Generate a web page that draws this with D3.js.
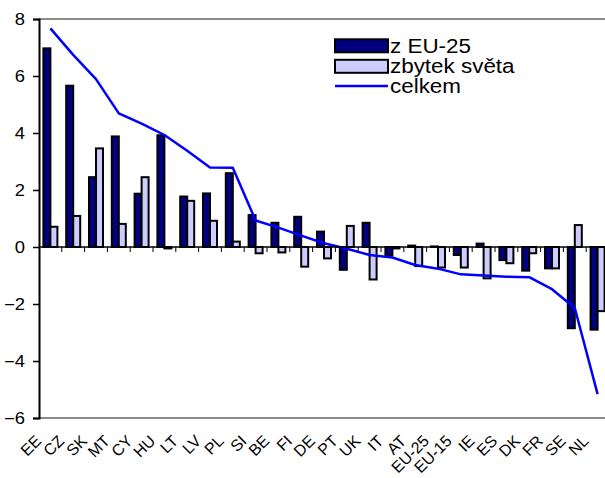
<!DOCTYPE html>
<html>
<head>
<meta charset="utf-8">
<script src="https://cdn.jsdelivr.net/npm/d3@7"></script>
<style>
  html, body { margin: 0; padding: 0; background: #fff; }
  svg { display: block; }
  text { font-family: "Liberation Sans", Arial, sans-serif; fill: #000; }
</style>
</head>
<body>
<svg id="chart" width="605" height="478"></svg>
<script>
// Contribution to growth by country: from EU-25 trade, from rest of world, and total
const categories = ["EE","CZ","SK","MT","CY","HU","LT","LV","PL","SI","BE","FI","DE","PT","UK","IT","AT","EU-25","EU-15","IE","ES","DK","FR","SE","NL"];
const fromEU = [6.97, 5.66, 2.45, 3.88, 1.87, 3.92, 1.77, 1.88, 2.59, 1.12, 0.85, 1.06, 0.54, -0.80, 0.85, -0.30, 0.05, 0.02, -0.28, 0.12, -0.46, -0.83, -0.75, -2.85, -2.90];
const restOfWorld = [0.71, 1.09, 3.46, 0.81, 2.45, -0.05, 1.62, 0.92, 0.19, -0.22, -0.19, -0.69, -0.40, 0.74, -1.14, -0.05, -0.67, -0.72, -0.72, -1.10, -0.57, -0.22, -0.75, 0.77, -2.25];
const total = [7.67, 6.74, 5.89, 4.69, 4.33, 3.93, 3.38, 2.79, 2.78, 0.93, 0.68, 0.40, 0.13, -0.06, -0.28, -0.37, -0.63, -0.76, -0.96, -1.00, -1.04, -1.06, -1.48, -2.14, -5.16];
const yTicks = [-6, -4, -2, 0, 2, 4, 6, 8];
const seriesNames = ["z EU-25", "zbytek světa", "celkem"];

const svg = d3.select("#chart");
const plot = { left: 39, right: 609, top: 19, bottom: 418 };
const TEXT_STRETCH = 1.15;

const x = d3.scaleBand().domain(categories).range([plot.left, plot.right]).paddingInner(0).paddingOuter(0);
const y = d3.scaleLinear().domain([-6, 8]).range([plot.bottom, plot.top]);
const barW = 7;

// plot area frame (top and bottom edges)
svg.append("line").attr("x1", plot.left).attr("x2", plot.right)
  .attr("y1", plot.top).attr("y2", plot.top)
  .attr("stroke", "#8c8c8c").attr("stroke-width", 2);
svg.append("line").attr("x1", plot.left).attr("x2", plot.right)
  .attr("y1", plot.bottom).attr("y2", plot.bottom)
  .attr("stroke", "#8c8c8c").attr("stroke-width", 2);

// bars
const bars = svg.append("g");
function drawBars(values, offset, fill) {
  bars.selectAll(null).data(categories).enter().append("rect")
    .attr("x", (d) => x(d) + x.bandwidth() / 2 + offset)
    .attr("width", barW)
    .attr("y", (d, i) => y(Math.max(0, values[i])))
    .attr("height", (d, i) => Math.abs(y(values[i]) - y(0)))
    .attr("fill", fill)
    .attr("stroke", "#000")
    .attr("stroke-width", 2);
}
drawBars(fromEU, -barW, "#000080");
drawBars(restOfWorld, 0, "#ccccff");

// total line
const line = d3.line()
  .x((d, i) => x(categories[i]) + x.bandwidth() / 2)
  .y((d) => y(d));
svg.append("path").datum(total)
  .attr("d", line)
  .attr("fill", "none")
  .attr("stroke", "#0000ff")
  .attr("stroke-width", 2.5)
  .attr("stroke-linejoin", "round");

// y axis
const yAxis = d3.axisLeft(y).tickValues(yTicks).tickSize(6).tickPadding(8).tickFormat(d3.format("d"));
const gy = svg.append("g").attr("transform", `translate(${plot.left},0)`).call(yAxis);
gy.select(".domain").attr("stroke", "#000").attr("stroke-width", 2);
gy.selectAll(".tick line").attr("stroke", "#000").attr("stroke-width", 1.5);
gy.selectAll(".tick text")
  .attr("font-size", 16)
  .attr("font-family", "Liberation Sans, Arial, sans-serif")
  .attr("fill", "#000")
  .each(function () {
    const t = d3.select(this);
    const xx = +t.attr("x");
    t.attr("x", null).attr("transform", `translate(${xx},0) scale(${TEXT_STRETCH},1)`);
  });

// x axis along zero, ticks at category boundaries
const gx = svg.append("g").attr("transform", `translate(0,${y(0)})`);
gx.append("line").attr("x1", plot.left).attr("x2", plot.right)
  .attr("stroke", "#000").attr("stroke-width", 1.5);
gx.selectAll(".cat-tick").data(categories.slice(1)).enter().append("line")
  .attr("x1", (d) => x(d)).attr("x2", (d) => x(d))
  .attr("y1", 0).attr("y2", 5)
  .attr("stroke", "#000").attr("stroke-width", 1);

// category labels, rotated, below the plot
svg.append("g").selectAll("text").data(categories).enter().append("text")
  .attr("text-anchor", "end")
  .attr("font-size", 16)
  .attr("transform", (d) => `translate(${x(d) + x.bandwidth() / 2 - 8},442) rotate(-45)`)
  .text((d) => d);

// legend
const lg = svg.append("g");
const lx = 335, lw = 53;
const rows = [45.8, 66.3, 86];
lg.append("rect").attr("x", lx).attr("y", rows[0] - 6.5).attr("width", lw).attr("height", 13)
  .attr("fill", "#000080").attr("stroke", "#000").attr("stroke-width", 2);
lg.append("rect").attr("x", lx).attr("y", rows[1] - 6.5).attr("width", lw).attr("height", 13)
  .attr("fill", "#ccccff").attr("stroke", "#000").attr("stroke-width", 2);
lg.append("line").attr("x1", lx).attr("x2", lx + lw).attr("y1", rows[2]).attr("y2", rows[2])
  .attr("stroke", "#0000ff").attr("stroke-width", 2.5);
lg.selectAll("text").data(seriesNames).enter().append("text")
  .attr("font-size", 19.5)
  .attr("dominant-baseline", "central")
  .attr("transform", (d, i) => `translate(${lx + lw + 2},${rows[i]}) scale(${TEXT_STRETCH},1)`)
  .text((d) => d);
</script>
</body>
</html>
